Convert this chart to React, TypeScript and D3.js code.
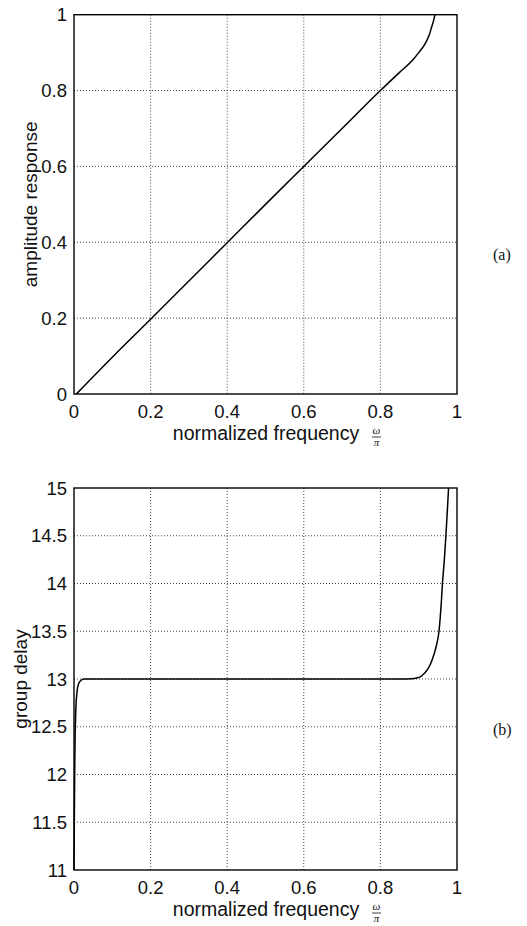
import React from "react";
import * as d3 from "d3";

const ampFreq = [0.006, 0.1, 0.2, 0.3, 0.4, 0.5, 0.6, 0.7, 0.8, 0.85, 0.885, 0.9, 0.917, 0.927, 0.934, 0.939, 0.9425];
const ampValue = [0, 0.097, 0.197, 0.298, 0.399, 0.5, 0.6, 0.7, 0.8, 0.848, 0.881, 0.9, 0.924, 0.945, 0.968, 0.985, 1.0];

const gdFreq = [0, 0.001, 0.002, 0.003, 0.005, 0.008, 0.012, 0.018, 0.026, 0.1, 0.3, 0.5, 0.7, 0.85, 0.88, 0.895, 0.905, 0.915, 0.924, 0.935, 0.945, 0.953, 0.959, 0.962, 0.967, 0.971, 0.975, 0.978];
const gdValue = [11, 11.6, 12.1, 12.4, 12.7, 12.87, 12.95, 12.985, 13, 13, 13, 13, 13, 13, 13.003, 13.01, 13.025, 13.06, 13.105, 13.2, 13.33, 13.5, 13.8, 14.0, 14.25, 14.5, 14.78, 15];

const xTicks = [0, 0.2, 0.4, 0.6, 0.8, 1];
const ampTicks = [0, 0.2, 0.4, 0.6, 0.8, 1];
const gdTicks = [11, 11.5, 12, 12.5, 13, 13.5, 14, 14.5, 15];

const SANS = "'Liberation Sans', Arial, Helvetica, sans-serif";
const SERIF = "'Liberation Serif', 'Times New Roman', serif";

type PanelProps = {
  top: number;
  bottom: number;
  xs: number[];
  ys: number[];
  yDomain: [number, number];
  yTicks: number[];
  yLabel: string;
  yLabelX: number;
  tag: string;
};

function Panel({ top, bottom, xs, ys, yDomain, yTicks, yLabel, yLabelX, tag }: PanelProps) {
  const left = 74;
  const right = 457;
  const x = d3.scaleLinear().domain([0, 1]).range([left, right]);
  const y = d3.scaleLinear().domain(yDomain).range([bottom, top]);
  const pts = xs.map((v, i) => [v, ys[i]] as [number, number]);
  const line = d3
    .line<[number, number]>()
    .x((d) => x(d[0]))
    .y((d) => y(d[1]))
    .curve(d3.curveMonotoneX);
  const mid = (top + bottom) / 2;
  return (
    <g>
      {xTicks.slice(1, -1).map((t) => (
        <line key={"gx" + t} x1={x(t)} x2={x(t)} y1={top} y2={bottom} stroke="#444" strokeWidth={1} strokeDasharray="1,2" />
      ))}
      {yTicks.slice(1, -1).map((t) => (
        <line key={"gy" + t} x1={left} x2={right} y1={y(t)} y2={y(t)} stroke="#444" strokeWidth={1} strokeDasharray="1,2" />
      ))}
      <path d={line(pts) || ""} fill="none" stroke="#000" strokeWidth={1.5} />
      <rect x={left} y={top} width={right - left} height={bottom - top} fill="none" stroke="#000" strokeWidth={1.4} />
      {xTicks.map((t) => (
        <text key={"tx" + t} x={x(t)} y={bottom + 24} textAnchor="middle" fontFamily={SANS} fontSize={18.5} fill="#111">
          {String(t)}
        </text>
      ))}
      {yTicks.map((t) => (
        <text key={"ty" + t} x={left - 7} y={y(t) + 6.6} textAnchor="end" fontFamily={SANS} fontSize={18.5} fill="#111">
          {String(t)}
        </text>
      ))}
      <text transform={`translate(${yLabelX},${mid}) rotate(-90)`} textAnchor="middle" fontFamily={SANS} fontSize={19} fill="#111">
        {yLabel}
      </text>
      <text x={266} y={bottom + 46} textAnchor="middle" fontFamily={SANS} fontSize={19.5} fill="#111">
        normalized frequency
      </text>
      <g fontFamily={SERIF} fontStyle="italic" fontSize={11} fill="#111">
        <text x={376.5} y={bottom + 40} textAnchor="middle">ω</text>
        <line x1={372} x2={381} y1={bottom + 43} y2={bottom + 43} stroke="#111" strokeWidth={0.8} />
        <text x={376.5} y={bottom + 52} textAnchor="middle">π</text>
      </g>
      <text x={493} y={mid + 56} fontFamily={SERIF} fontSize={16} fill="#111">
        {tag}
      </text>
    </g>
  );
}

export default function App() {
  return (
    <svg width={527} height={926} style={{ position: "absolute", left: 0, top: 0, background: "#fff" }}>
      <rect width={527} height={926} fill="#fff" />
      <Panel top={14.7} bottom={394} xs={ampFreq} ys={ampValue} yDomain={[0, 1]} yTicks={ampTicks} yLabel="amplitude response" yLabelX={37} tag="(a)" />
      <Panel top={488} bottom={870} xs={gdFreq} ys={gdValue} yDomain={[11, 15]} yTicks={gdTicks} yLabel="group delay" yLabelX={27} tag="(b)" />
    </svg>
  );
}
